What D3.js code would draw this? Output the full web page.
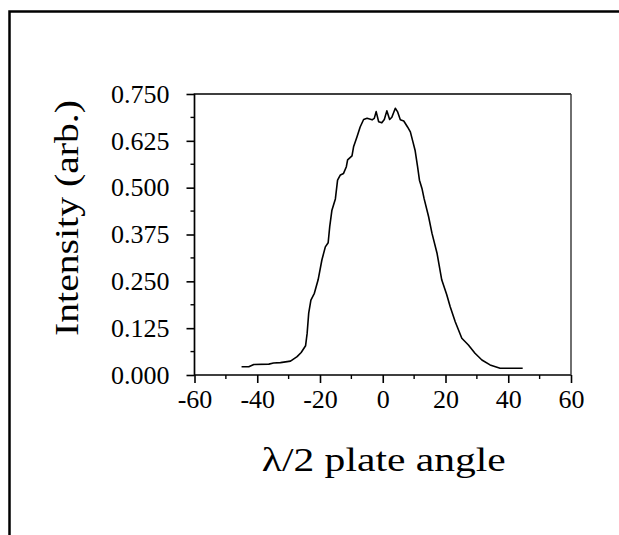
<!DOCTYPE html>
<html>
<head>
<meta charset="utf-8">
<script src="https://cdn.jsdelivr.net/npm/d3@7"></script>
<style>
  html, body { margin: 0; padding: 0; background: #fff; }
  svg { display: block; }
  text { font-family: "Liberation Serif", "Times New Roman", serif; fill: #000; }
</style>
</head>
<body>
<svg id="chart" width="619" height="535"></svg>
<script>
// Half-wave plate angle (degrees)
const angles = [
  -45.0, -42.7, -41.1, -36.3, -34.8, -32.6, -29.4, -27.3, -26.0, -24.6,
  -24.1, -23.6, -22.9, -21.8, -20.6, -19.4, -18.3, -17.4, -16.9, -16.2,
  -15.1, -14.4, -13.5, -12.5, -11.6, -11.2, -9.8, -9.3, -8.2, -7.2,
  -6.1, -5.0, -3.4, -2.7, -2.1, -1.3, -0.3, 0.5, 1.3, 2.2,
  2.9, 4.0, 4.7, 5.6, 6.7, 7.9, 8.8, 9.6, 10.3, 11.1,
  11.7, 12.5, 13.2, 14.6, 15.7, 17.3, 18.8, 20.4, 21.5, 23.1,
  25.2, 27.3, 29.4, 31.6, 34.2, 37.4, 41.6, 44.6
];
// Measured intensity (arb. units)
const intensity = [
  0.022, 0.022, 0.028, 0.029, 0.032, 0.033, 0.037, 0.049, 0.060, 0.078,
  0.111, 0.165, 0.200, 0.218, 0.254, 0.307, 0.342, 0.353, 0.396, 0.440,
  0.470, 0.520, 0.534, 0.538, 0.556, 0.574, 0.585, 0.609, 0.636, 0.662,
  0.682, 0.685, 0.681, 0.685, 0.703, 0.676, 0.673, 0.682, 0.705, 0.682,
  0.688, 0.712, 0.703, 0.681, 0.678, 0.662, 0.649, 0.623, 0.600, 0.556,
  0.520, 0.498, 0.470, 0.423, 0.378, 0.325, 0.254, 0.214, 0.182, 0.142,
  0.098, 0.080, 0.058, 0.040, 0.027, 0.018, 0.018, 0.018
];
const xTicks = [-60, -40, -20, 0, 20, 40, 60];
const yTicks = [0.000, 0.125, 0.250, 0.375, 0.500, 0.625, 0.750];
const xTitle = "\u03BB/2 plate angle";
const yTitle = "Intensity (arb.)";

const svg = d3.select("#chart");
const plot = { left: 194.5, right: 571, top: 94, bottom: 375 };

const x = d3.scaleLinear().domain([-60, 60]).range([plot.left, plot.right]);
const y = d3.scaleLinear().domain([0, 0.75]).range([plot.bottom, plot.top]);

// outer frame (left and top edges)
svg.append("path")
  .attr("d", `M9.5,535 V11.5 H619`)
  .attr("fill", "none").attr("stroke", "#000").attr("stroke-width", 2.5);

// plot box: left, top and bottom edges solid, right edge lighter
svg.append("path")
  .attr("d", `M${plot.right},${plot.top} H${plot.left} V${plot.bottom} H${plot.right}`)
  .attr("fill", "none").attr("stroke", "#000").attr("stroke-width", 1.7);
svg.append("line")
  .attr("x1", plot.right).attr("x2", plot.right)
  .attr("y1", plot.top).attr("y2", plot.bottom)
  .attr("stroke", "#333").attr("stroke-width", 1.4);

// minor ticks
const xMinor = d3.range(-50, 60, 20);
const yMinor = d3.range(0.0625, 0.75, 0.125);

const xAxis = d3.axisBottom(x).tickValues(xTicks).tickSize(8).tickPadding(7)
  .tickFormat(d => String(d));
const gx = svg.append("g").attr("transform", `translate(0,${plot.bottom})`).call(xAxis);
gx.select(".domain").remove();
gx.selectAll(".tick line").attr("stroke", "#000").attr("stroke-width", 1.6);
gx.selectAll(".tick text").attr("font-size", 26).attr("font-family", "Liberation Serif")
  .attr("dy", "0.68em");
gx.selectAll(".minor").data(xMinor).enter().append("line")
  .attr("class", "minor")
  .attr("x1", d => x(d)).attr("x2", d => x(d)).attr("y1", 0).attr("y2", 4)
  .attr("stroke", "#000").attr("stroke-width", 1.4);

const yAxis = d3.axisLeft(y).tickValues(yTicks).tickSize(8).tickPadding(17)
  .tickFormat(d3.format(".3f"));
const gy = svg.append("g").attr("transform", `translate(${plot.left},0)`).call(yAxis);
gy.select(".domain").remove();
gy.selectAll(".tick line").attr("stroke", "#000").attr("stroke-width", 1.6);
gy.selectAll(".tick text").attr("font-size", 26).attr("font-family", "Liberation Serif");
gy.selectAll(".minor").data(yMinor).enter().append("line")
  .attr("class", "minor")
  .attr("x1", -4).attr("x2", 0).attr("y1", d => y(d)).attr("y2", d => y(d))
  .attr("stroke", "#000").attr("stroke-width", 1.4);

// data curve
const pts = angles.map((a, i) => [a, intensity[i]]);
svg.append("path")
  .datum(pts)
  .attr("d", d3.line().x(d => x(d[0])).y(d => y(d[1])))
  .attr("fill", "none").attr("stroke", "#000").attr("stroke-width", 1.6)
  .attr("stroke-linejoin", "round");

// axis titles
svg.append("text")
  .attr("x", (plot.left + plot.right) / 2 + 1).attr("y", 471)
  .attr("text-anchor", "middle").attr("font-size", 33)
  .attr("textLength", 244).attr("lengthAdjust", "spacingAndGlyphs")
  .text(xTitle);

svg.append("text")
  .attr("transform", `translate(78,218) rotate(-90)`)
  .attr("text-anchor", "middle").attr("font-size", 33)
  .attr("textLength", 236).attr("lengthAdjust", "spacingAndGlyphs")
  .text(yTitle);
</script>
</body>
</html>
